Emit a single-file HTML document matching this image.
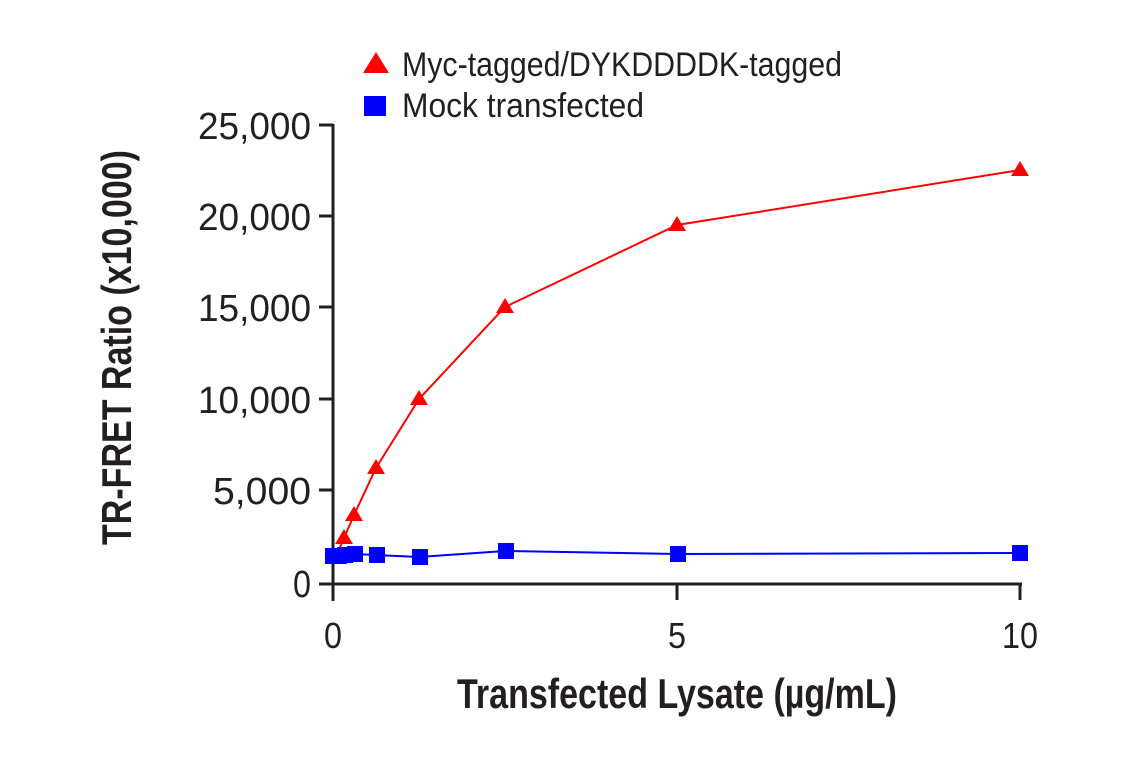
<!DOCTYPE html>
<html><head><meta charset="utf-8"><style>body{margin:0;background:#fff}svg{display:block}</style></head>
<body>
<svg width="1141" height="768" xmlns="http://www.w3.org/2000/svg" font-family="'Liberation Sans Narrow','Liberation Sans',sans-serif" fill="#231f20">
<g stroke="#231f20" stroke-width="3">
<line x1="333" y1="124" x2="333" y2="601"/>
<line x1="331.5" y1="584" x2="1022" y2="584"/>
<line x1="319" y1="125" x2="333" y2="125"/>
<line x1="319" y1="216" x2="333" y2="216"/>
<line x1="319" y1="307" x2="333" y2="307"/>
<line x1="319" y1="399" x2="333" y2="399"/>
<line x1="319" y1="490" x2="333" y2="490"/>
<line x1="319" y1="584" x2="333" y2="584"/>
<line x1="677" y1="584" x2="677" y2="600"/>
<line x1="1020" y1="584" x2="1020" y2="600"/>
</g>
<g font-size="38" text-anchor="end">
<text x="311" y="139" textLength="113" lengthAdjust="spacingAndGlyphs">25,000</text>
<text x="311" y="230" textLength="113" lengthAdjust="spacingAndGlyphs">20,000</text>
<text x="311" y="321" textLength="113" lengthAdjust="spacingAndGlyphs">15,000</text>
<text x="311" y="413" textLength="113" lengthAdjust="spacingAndGlyphs">10,000</text>
<text x="311" y="504" textLength="98" lengthAdjust="spacingAndGlyphs">5,000</text>
<text x="311" y="597" textLength="18" lengthAdjust="spacingAndGlyphs">0</text>
</g>
<g font-size="36" text-anchor="middle">
<text x="333" y="648" textLength="18" lengthAdjust="spacingAndGlyphs">0</text>
<text x="677" y="648" textLength="18" lengthAdjust="spacingAndGlyphs">5</text>
<text x="1020" y="648" textLength="36" lengthAdjust="spacingAndGlyphs">10</text>
</g>
<text x="457" y="708" font-size="42" font-weight="bold" textLength="440" lengthAdjust="spacingAndGlyphs">Transfected Lysate (µg/mL)</text>
<text transform="translate(131,545) rotate(-90)" font-size="42" font-weight="bold" textLength="395" lengthAdjust="spacingAndGlyphs">TR-FRET Ratio (x10,000)</text>
<polyline fill="none" stroke="#ff0000" stroke-width="2" points="338,552 344,538 354,515 376,468 419,399 505,307 677,225 1020,170"/>
<polyline fill="none" stroke="#0000ff" stroke-width="2" points="333,556 338,556 344,555 354,554 376,555 419,557 505,551 677,554 1020,553"/>
<g fill="#ff0000">
<path d="M344,529 l9,15 h-18z"/><path d="M354,506 l9,15 h-18z"/><path d="M376,459 l9,15 h-18z"/><path d="M419,390 l9,15 h-18z"/><path d="M505,298 l9,15 h-18z"/><path d="M677,216 l9,15 h-18z"/><path d="M1020,161 l9,15 h-18z"/>
<path d="M376,52 l13,21 h-26z"/>
</g>
<g fill="#0000ff">
<rect x="325" y="548" width="16" height="16"/><rect x="331" y="548" width="16" height="16"/><rect x="337" y="547" width="16" height="16"/><rect x="347" y="546" width="16" height="16"/><rect x="369" y="547" width="16" height="16"/><rect x="412" y="549" width="16" height="16"/><rect x="498" y="543" width="16" height="16"/><rect x="670" y="546" width="16" height="16"/><rect x="1012" y="545" width="16" height="16"/>
<rect x="364" y="96" width="22" height="20"/>
</g>
<g font-size="34">
<text x="402" y="76" textLength="440" lengthAdjust="spacingAndGlyphs">Myc-tagged/DYKDDDDK-tagged</text>
<text x="402" y="117" textLength="242" lengthAdjust="spacingAndGlyphs">Mock transfected</text>
</g>
</svg>
</body></html>
